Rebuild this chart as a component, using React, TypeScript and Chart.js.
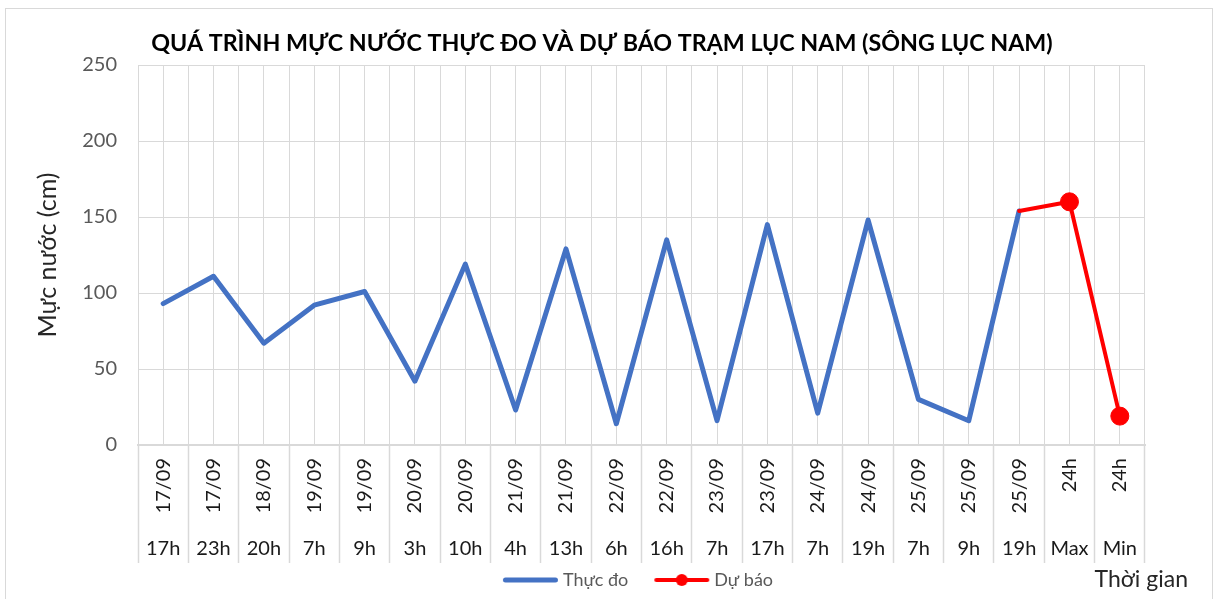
import React, { useEffect, useRef } from 'react';
import { Chart, registerables } from 'chart.js';

Chart.register(...registerables);

const TITLE = 'QUÁ TRÌNH MỰC NƯỚC THỰC ĐO VÀ DỰ BÁO TRẠM LỤC NAM (SÔNG LỤC NAM)';
const Y_TITLE = 'Mực nước (cm)';
const X_TITLE = 'Thời gian';
const SERIES_OBSERVED = 'Thực đo';
const SERIES_FORECAST = 'Dự báo';

const dateLabels = ['17/09', '17/09', '18/09', '19/09', '19/09', '20/09', '20/09', '21/09', '21/09', '22/09', '22/09', '23/09', '23/09', '24/09', '24/09', '25/09', '25/09', '25/09', '24h', '24h'];
const hourLabels = ['17h', '23h', '20h', '7h', '9h', '3h', '10h', '4h', '13h', '6h', '16h', '7h', '17h', '7h', '19h', '7h', '9h', '19h', 'Max', 'Min'];
const observedLevels: (number | null)[] = [93, 111, 67, 92, 101, 42, 119, 23, 129, 14, 135, 16, 145, 21, 148, 30, 16, 154, null, null];
const forecastLevels: (number | null)[] = [null, null, null, null, null, null, null, null, null, null, null, null, null, null, null, null, null, 154, 160, 19];

const Y_MIN = 0;
const Y_MAX = 250;
const Y_STEP = 50;

const BLUE = '#4472C4';
const RED = '#FF0000';
const GRID = '#D9D9D9';
const FONT = 'Lato';

function legendSwatch(color: string, lineWidth: number, dot: boolean) {
  const c = document.createElement('canvas');
  c.width = 60;
  c.height = 14;
  const g = c.getContext('2d')!;
  g.strokeStyle = color;
  g.lineWidth = lineWidth;
  g.lineCap = 'round';
  g.beginPath();
  g.moveTo(1 + lineWidth / 2, 7);
  g.lineTo(56 - lineWidth / 2, 7);
  g.stroke();
  if (dot) {
    g.fillStyle = color;
    g.beginPath();
    g.arc(28.5, 7, 6, 0, Math.PI * 2);
    g.fill();
  }
  return c;
}

const framePlugin = {
  id: 'frame',
  beforeDraw(chart: any) {
    const { ctx, width, height } = chart;
    ctx.save();
    ctx.fillStyle = '#ffffff';
    ctx.fillRect(0, 0, width, height);
    ctx.strokeStyle = GRID;
    ctx.lineWidth = 1;
    ctx.strokeRect(5.5, 8.5, 1207, height + 10);
    ctx.restore();
  },
  afterDraw(chart: any) {
    const { ctx, chartArea } = chart;
    ctx.save();
    ctx.font = `23px ${FONT}`;
    ctx.fillStyle = '#262626';
    ctx.textAlign = 'right';
    ctx.textBaseline = 'alphabetic';
    ctx.fillText(X_TITLE, chartArea.right + 43, 587);
    ctx.restore();
  },
};

export default function App() {
  const ref = useRef<HTMLCanvasElement | null>(null);

  useEffect(() => {
    if (!ref.current) return;
    Chart.defaults.font.family = FONT;
    const blueSwatch = legendSwatch(BLUE, 5, false);
    const redSwatch = legendSwatch(RED, 4, true);

    const chart = new Chart(ref.current, {
      type: 'line',
      data: {
        labels: dateLabels,
        datasets: [
          {
            label: SERIES_OBSERVED,
            data: observedLevels,
            xAxisID: 'x',
            yAxisID: 'y',
            borderColor: BLUE,
            backgroundColor: BLUE,
            borderWidth: 5,
            pointRadius: 0,
            pointHoverRadius: 0,
            borderJoinStyle: 'round',
            borderCapStyle: 'round',
            tension: 0,
            order: 1,
          },
          {
            label: SERIES_FORECAST,
            data: forecastLevels,
            xAxisID: 'x',
            yAxisID: 'y',
            borderColor: RED,
            backgroundColor: RED,
            borderWidth: 4,
            pointRadius: (c: any) => (observedLevels[c.dataIndex] == null ? 9 : 0),
            pointHoverRadius: 0,
            pointBackgroundColor: RED,
            pointBorderColor: RED,
            pointBorderWidth: 1,
            borderJoinStyle: 'round',
            borderCapStyle: 'round',
            tension: 0,
            order: 0,
          },
        ],
      },
      options: {
        responsive: false,
        animation: false,
        events: [],
        layout: { padding: { top: 20, left: 0, right: 13, bottom: 0 } },
        plugins: {
          tooltip: { enabled: false },
          title: {
            display: true,
            text: TITLE,
            color: '#000000',
            font: { size: 23.25, weight: 'bold', family: FONT },
            padding: { top: 9.1, bottom: 8 },
          },
          legend: {
            display: true,
            position: 'bottom',
            fullSize: false,
            labels: {
              usePointStyle: true,
              pointStyleWidth: 44,
              padding: 33,
              color: '#595959',
              font: { size: 18, family: FONT },
              generateLabels: () => [
                { text: SERIES_OBSERVED, pointStyle: blueSwatch, datasetIndex: 0, hidden: false, lineWidth: 0, fillStyle: BLUE, strokeStyle: BLUE, fontColor: '#595959' },
                { text: SERIES_FORECAST, pointStyle: redSwatch, datasetIndex: 1, hidden: false, lineWidth: 0, fillStyle: RED, strokeStyle: RED, fontColor: '#595959' },
              ] as any,
            },
          },
        },
        scales: {
          x: {
            type: 'category',
            labels: dateLabels,
            position: 'bottom',
            weight: 1,
            offset: true,
            grid: { offset: true, color: GRID, lineWidth: 1, drawTicks: true, tickLength: 118, tickWidth: 1.5, tickColor: GRID },
            border: { color: GRID, width: 2 },
            ticks: { autoSkip: false, minRotation: 90, maxRotation: 90, padding: 13 - 118, color: '#1a1a1a', font: { size: 20 } },
            afterFit: (s: any) => { s.height = 85; },
          },
          x2: {
            type: 'category',
            labels: hourLabels,
            position: 'bottom',
            weight: 2,
            offset: true,
            grid: { offset: false, color: GRID, lineWidth: 1, drawTicks: false, drawOnChartArea: true },
            border: { display: false },
            ticks: { autoSkip: false, maxRotation: 0, minRotation: 0, mirror: true, padding: -31, color: '#1a1a1a', font: { size: 20 } },
            afterFit: (s: any) => { s.height = 8; },
          },
          y: {
            type: 'linear',
            position: 'left',
            min: Y_MIN,
            max: Y_MAX,
            ticks: { stepSize: Y_STEP, padding: 21, color: '#595959', font: { size: 20 } },
            grid: { color: GRID, drawTicks: false },
            border: { color: GRID },
            title: { display: true, text: Y_TITLE, color: '#262626', font: { size: 25 }, padding: { top: 33, bottom: 0 } },
            afterFit: (s: any) => { s.width = 138; },
          },
          yR: {
            type: 'linear',
            position: 'right',
            display: true,
            grid: { display: false },
            border: { display: false },
            ticks: { display: false },
            afterFit: (s: any) => { s.width = 59; },
          },
        },
      } as any,
      plugins: [framePlugin],
    });
    return () => chart.destroy();
  }, []);

  return (
    <div style={{ position: 'absolute', left: 0, top: 0, width: 1217, height: 599 }}>
      <canvas ref={ref} width={1217} height={599} style={{ display: 'block' }} />
    </div>
  );
}
